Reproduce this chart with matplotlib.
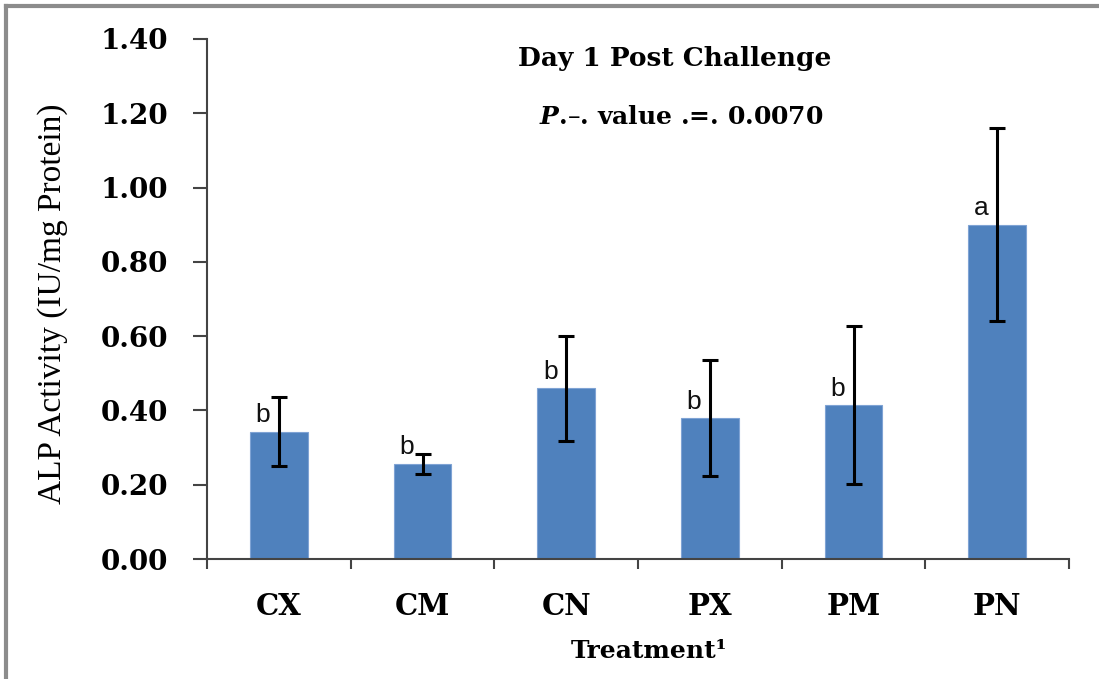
import matplotlib
matplotlib.use('Agg')
import matplotlib.pyplot as plt
from matplotlib.lines import Line2D
from matplotlib.ticker import FixedLocator, NullFormatter

# Data
treatments = ['CX', 'CM', 'CN', 'PX', 'PM', 'PN']
alp_activity = [0.343, 0.257, 0.46, 0.38, 0.415, 0.90]
alp_error = [0.093, 0.027, 0.141, 0.157, 0.212, 0.26]
letters = ['b', 'b', 'b', 'b', 'b', 'a']
yticks = [0.0, 0.2, 0.4, 0.6, 0.8, 1.0, 1.2, 1.4]

plt.rcParams['mathtext.fontset'] = 'dejavuserif'
bold_serif = ['DejaVu Serif']
serif = ['Liberation Serif', 'DejaVu Serif']
sans = ['Liberation Sans', 'DejaVu Sans']

fig = plt.figure(figsize=(10.99, 6.79), dpi=100)
ax = fig.add_axes([0.1884, 0.1767, 0.7843, 0.7659])

x = list(range(len(treatments)))
ax.bar(x, alp_activity, width=0.40, color='#4F81BD', edgecolor='#7FA3D4', linewidth=0.8, zorder=2)
ax.errorbar(x, alp_activity, yerr=alp_error, fmt='none', ecolor='black',
            elinewidth=2.2, capsize=5.5, capthick=2.2, zorder=3)

# significance letters, just left of the error bar above the bar top
for xi, v, lt in zip(x, alp_activity, letters):
    ax.text(xi - 0.11, v + 0.025, lt, ha='center', va='baseline',
            fontsize=19, family=sans, color='#111111', zorder=4)

ax.set_xlim(-0.5, len(treatments) - 0.5)
ax.set_ylim(0, 1.4)
ax.set_yticks(yticks)
ax.set_yticklabels(['%.2f' % t for t in yticks], fontsize=20, fontweight='bold', family=bold_serif)
ax.set_xticks(x)
ax.set_xticklabels(treatments, fontsize=21, fontweight='bold', family=bold_serif)
ax.xaxis.set_minor_locator(FixedLocator([i - 0.5 for i in range(len(treatments) + 1)]))
ax.xaxis.set_minor_formatter(NullFormatter())
ax.tick_params(axis='x', which='major', length=0, pad=24)
ax.tick_params(axis='x', which='minor', length=7, width=1.5, color='#444444', direction='out')
ax.tick_params(axis='y', length=10, width=1.5, color='#444444', direction='out', pad=18)

for s in ['top', 'right']:
    ax.spines[s].set_visible(False)
for s in ['left', 'bottom']:
    ax.spines[s].set_color('#444444')
    ax.spines[s].set_linewidth(1.5)

ax.set_ylabel('ALP Activity (IU/mg Protein)', fontsize=24, family=serif, va='center')
ax.yaxis.set_label_coords(-0.179, 0.49)
ax.set_xlabel('Treatment¹', fontsize=18, fontweight='bold', family=bold_serif, va='baseline')
ax.xaxis.set_label_coords(0.513, -0.19)

fig.text(0.614, 1 - 66 / 679, 'Day 1 Post Challenge', ha='center', va='baseline',
         fontsize=19, fontweight='bold', family=bold_serif)
fig.text(0.620, 1 - 124 / 679, r'$\mathbfit{P}$.–. value .=. 0.0070', ha='center', va='baseline',
         fontsize=18, fontweight='bold', family=bold_serif)

# grey frame on the left and top of the picture
fig.add_artist(Line2D([0.0055, 0.0055], [0.0, 0.991], transform=fig.transFigure,
                      color='#8c8c8c', linewidth=3))
fig.add_artist(Line2D([0.0055, 1.0], [0.991, 0.991], transform=fig.transFigure,
                      color='#8c8c8c', linewidth=3))

fig.savefig('out.png', dpi=100)
